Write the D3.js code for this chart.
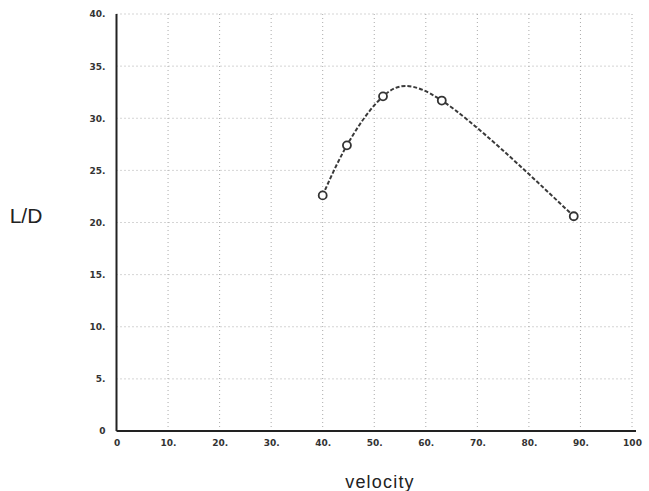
<!DOCTYPE html>
<html><head><meta charset="utf-8">
<script src="https://cdn.jsdelivr.net/npm/d3@7"></script>
<style>body{margin:0;background:#fff}svg{display:block}</style>
</head><body>
<svg id="c" width="649" height="491"></svg>
<script>
const velocity = [40.0, 44.7, 51.7, 63.1, 88.7];
const liftDrag = [22.6, 27.4, 32.1, 31.7, 20.6];
const xTicks = [0,10,20,30,40,50,60,70,80,90,100];
const xTickLabels = ["0","10.","20.","30.","40.","50.","60.","70.","80.","90.","100"];
const yTicks = [0,5,10,15,20,25,30,35,40];
const yTickLabels = ["0","5.","10.","15.","20.","25.","30.","35.","40."];

const svg = d3.select("#c");
const x = d3.scaleLinear().domain([0,100]).range([116.5,632]);
const y = d3.scaleLinear().domain([0,40]).range([431,14]);

// grid
svg.append("g").selectAll("line").data(xTicks.slice(1)).join("line")
  .attr("x1",d=>x(d)).attr("x2",d=>x(d)).attr("y1",y(0)).attr("y2",y(40))
  .attr("stroke","#aaa").attr("stroke-width",1).attr("stroke-dasharray","1,3");
svg.append("g").selectAll("line").data(yTicks.slice(1)).join("line")
  .attr("x1",x(0)).attr("x2",x(100)).attr("y1",d=>y(d)).attr("y2",d=>y(d))
  .attr("stroke","#aaa").attr("stroke-width",1).attr("stroke-dasharray","1,3");

// axes
const xAxis = d3.axisBottom(x).tickValues(xTicks).tickFormat((d,i)=>xTickLabels[i]).tickSize(0).tickPadding(9);
const yAxis = d3.axisLeft(y).tickValues(yTicks).tickFormat((d,i)=>yTickLabels[i]).tickSize(0).tickPadding(11);
const gx = svg.append("g").attr("transform",`translate(0,${y(0)})`).call(xAxis);
const gy = svg.append("g").attr("transform",`translate(${x(0)},0)`).call(yAxis);
[gx,gy].forEach(g=>{
  g.select(".domain").attr("stroke","#222").attr("stroke-width",2);
  g.selectAll("text").attr("font-family","DejaVu Sans, sans-serif")
   .attr("font-size",9).attr("font-weight","bold").attr("fill","#333");
});
gy.select(".domain").attr("d",`M0,${y(0)}V${y(40)}`);
gx.select(".domain").attr("d",`M${x(0)},0H${x(100)+4}`);

// curve
const pts = velocity.map((v,i)=>[v,liftDrag[i]]);
const line = d3.line().x(d=>x(d[0])).y(d=>y(d[1])).curve(d3.curveNatural);
svg.append("path").attr("d",line(pts)).attr("fill","none")
  .attr("stroke","#3a3a3a").attr("stroke-width",2).attr("stroke-dasharray","4,2");
svg.append("g").selectAll("circle").data(pts).join("circle")
  .attr("cx",d=>x(d[0])).attr("cy",d=>y(d[1])).attr("r",4)
  .attr("fill","#fff").attr("stroke","#333").attr("stroke-width",1.8);

// titles
svg.append("text").attr("x",26).attr("y",223).attr("text-anchor","middle")
  .attr("font-family","Liberation Sans, Arial, sans-serif").attr("font-size",21).attr("fill","#222").text("L/D");
svg.append("text").attr("x",380).attr("y",488).attr("text-anchor","middle")
  .attr("font-family","Liberation Sans, Arial, sans-serif").attr("font-size",18).attr("letter-spacing",1.2).attr("fill","#222").text("velocity");
</script>
</body></html>
